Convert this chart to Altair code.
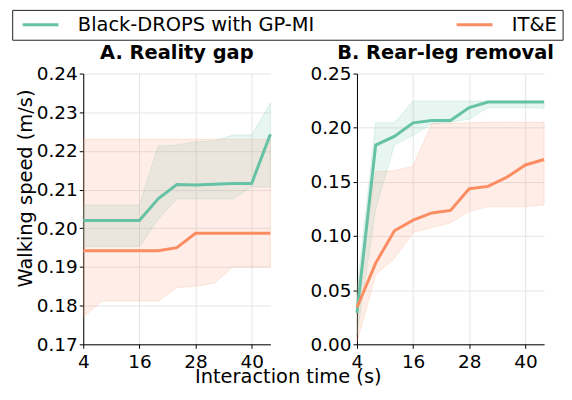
import altair as alt
import pandas as pd

times = [4, 8, 12, 16, 20, 24, 28, 32, 36, 40, 44]
x_ticks = [4, 16, 28, 40]
series_names = ["Black-DROPS with GP-MI", "IT&E"]
series_colors = ["#66c2a5", "#fc8d62"]
panel_titles = ["A. Reality gap", "B. Rear-leg removal"]

a_y_ticks = [0.17, 0.18, 0.19, 0.20, 0.21, 0.22, 0.23, 0.24]
b_y_ticks = [0.00, 0.05, 0.10, 0.15, 0.20, 0.25]

# Panel A: reality gap
a_gp_mean = [0.2020, 0.2020, 0.2020, 0.2020, 0.2076, 0.2113, 0.2112, 0.2114, 0.2116, 0.2116, 0.2243]
a_gp_lo = [0.1953, 0.1953, 0.1953, 0.1953, 0.2023, 0.2076, 0.2076, 0.2076, 0.2076, 0.2107, 0.2107]
a_gp_hi = [0.2060, 0.2060, 0.2060, 0.2060, 0.2213, 0.2215, 0.2224, 0.2226, 0.2241, 0.2241, 0.2324]
a_ite_mean = [0.1942, 0.1942, 0.1942, 0.1942, 0.1942, 0.1950, 0.1987, 0.1987, 0.1987, 0.1987, 0.1987]
a_ite_lo = [0.1770, 0.1812, 0.1812, 0.1812, 0.1812, 0.1847, 0.1850, 0.1858, 0.1900, 0.1900, 0.1900]
a_ite_hi = [0.2230, 0.2230, 0.2230, 0.2230, 0.2230, 0.2230, 0.2230, 0.2230, 0.2230, 0.2230, 0.2230]

# Panel B: rear-leg removal
b_gp_mean = [0.029, 0.184, 0.192, 0.2045, 0.2066, 0.2066, 0.2186, 0.2237, 0.2237, 0.2237, 0.2237]
b_gp_lo = [0.008, 0.125, 0.184, 0.193, 0.2036, 0.2050, 0.2080, 0.2186, 0.2186, 0.2186, 0.2180]
b_gp_hi = [0.050, 0.2045, 0.2045, 0.2246, 0.2246, 0.2246, 0.2246, 0.2246, 0.2246, 0.2246, 0.2246]
b_ite_mean = [0.034, 0.075, 0.1048, 0.1147, 0.1213, 0.1237, 0.1437, 0.1458, 0.1542, 0.1656, 0.1707]
b_ite_lo = [0.002, 0.0644, 0.0793, 0.1033, 0.1078, 0.1123, 0.1228, 0.1272, 0.1272, 0.1272, 0.1287]
b_ite_hi = [0.048, 0.1593, 0.1602, 0.1647, 0.2036, 0.2040, 0.2045, 0.2051, 0.2051, 0.2051, 0.2051]


def make_df(rows):
    frames = []
    for name, mean, lo, hi in rows:
        frames.append(pd.DataFrame({"time": times, "series": name,
                                    "mean": mean, "lo": lo, "hi": hi}))
    return pd.concat(frames, ignore_index=True)


df_a = make_df([(series_names[0], a_gp_mean, a_gp_lo, a_gp_hi),
                (series_names[1], a_ite_mean, a_ite_lo, a_ite_hi)])
df_b = make_df([(series_names[0], b_gp_mean, b_gp_lo, b_gp_hi),
                (series_names[1], b_ite_mean, b_ite_lo, b_ite_hi)])

col_scale = alt.Scale(domain=series_names, range=series_colors)

PLOT_H = 272

legend = alt.Legend(
    title=None, orient="none", legendX=-71.4, legendY=-64, columns=2,
    columnPadding=137, labelOffset=18, symbolOffset=4,
    symbolType="stroke", symbolSize=1296, symbolStrokeWidth=3,
    clipHeight=20, padding=5, strokeColor="#222222", fillColor="white",
    cornerRadius=0, labelFont="DejaVu Sans", labelFontSize=19.5,
    labelColor="black", labelLimit=400,
)


def panel(df, title, ydomain, yticks, xtitle, ytitle, title_dx):
    xaxis_kw = dict(values=x_ticks, format="d", grid=True, labelFlush=False)
    if xtitle:
        xaxis_kw.update(title=xtitle, titleX=205.5, titleY=38,
                        titleAlign="center", titleBaseline="alphabetic")
    else:
        xaxis_kw.update(title=None)
    yaxis_kw = dict(values=yticks, format=".2f", grid=True, labelFlush=False)
    if ytitle:
        yaxis_kw.update(title=ytitle, titleX=-52, titleY=115,
                        titleAlign="center", titleBaseline="alphabetic")
    else:
        yaxis_kw.update(title=None)
    xax = alt.Axis(**xaxis_kw)
    yax = alt.Axis(**yaxis_kw)
    xs = alt.Scale(domain=[4, 44], nice=False, zero=False)
    ys = alt.Scale(domain=ydomain, nice=False, zero=False)

    base = alt.Chart(df)
    layers = []
    for name, colr in zip(series_names, series_colors):
        layers.append(
            base.transform_filter(alt.datum.series == name)
            .mark_area(color=colr, fillOpacity=0.15, stroke=colr,
                       strokeOpacity=0.2, strokeWidth=1)
            .encode(
                x=alt.X("time:Q", scale=xs, axis=xax),
                y=alt.Y("lo:Q", scale=ys, axis=yax),
                y2="hi:Q",
            )
        )
    line = base.mark_line(strokeWidth=3).encode(
        x=alt.X("time:Q", scale=xs, axis=xax),
        y=alt.Y("mean:Q", scale=ys, axis=yax),
        color=alt.Color("series:N", scale=col_scale, legend=legend),
    )
    layers.append(line)
    return alt.layer(*layers).properties(
        width=188, height=PLOT_H,
        title=alt.TitleParams(text=title, dx=title_dx),
    )


pa = panel(df_a, panel_titles[0], [0.17, 0.24], a_y_ticks,
           "Interaction time (s)", "Walking speed (m/s)", 0)
pb = panel(df_b, panel_titles[1], [0.0, 0.25], b_y_ticks, None, None, -5)

chart = alt.hconcat(pa, pb, spacing=87, bounds="flush").properties(
    padding={"left": 3.6, "top": 0, "right": 0, "bottom": 0}
).configure_view(stroke=None).configure_axis(
    labelFont="DejaVu Sans", labelFontSize=18.5, labelColor="black",
    titleFont="DejaVu Sans", titleFontSize=19.5, titleFontWeight="normal",
    titleColor="black", domainColor="black", domainWidth=1,
    tickColor="black", tickSize=4, tickWidth=1,
    gridColor="#e5e5e5", gridWidth=1,
).configure_axisX(labelPadding=4).configure_axisY(labelPadding=2).configure_title(
    font="DejaVu Sans", fontSize=19.5, fontWeight="bold", color="black",
    anchor="middle", frame="group", offset=1, baseline="alphabetic",
)

chart.save("out.html", embed_options={"renderer": "svg", "actions": False})
